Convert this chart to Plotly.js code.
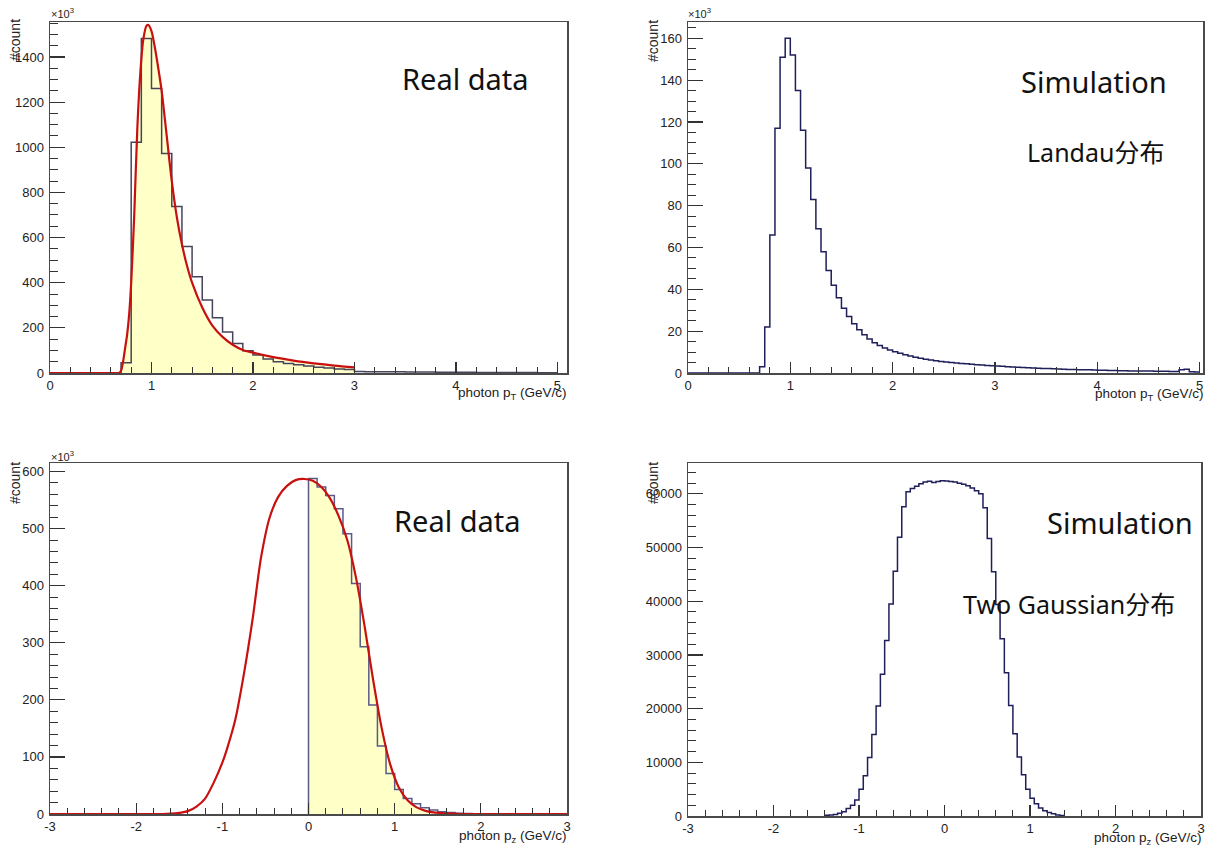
<!DOCTYPE html>
<html><head><meta charset="utf-8">
<script src="https://cdn.plot.ly/plotly-3.0.1.min.js"></script>
<style>html,body{margin:0;padding:0;background:#fff}#chart{width:1214px;height:850px}</style>
</head><body><div id="chart"></div>
<script>
// ---------- Panel 1: Real data, photon pT (counts in 10^3) ----------
const ptRealBinStart = 0, ptRealBinWidth = 0.1;
const ptRealCounts = [0,0,0,0,0,0,0,45,1022,1482,1260,972,738,560,426,323,245,182,131,99,80,62,50,42,36,31,26,22,18,15,7,6,6,5,5,4,4,4,3,3,3,3,2,2,2,2,2,2,1,1];
const ptRealFitX = [0,0.6,0.68,0.70,0.72,0.74,0.76,0.78,0.80,0.83,0.86,0.89,0.92,0.95,0.97,1.00,1.03,1.06,1.10,1.15,1.20,1.25,1.30,1.35,1.40,1.50,1.60,1.70,1.80,1.90,2.00,2.20,2.40,2.60,2.80,3.00];
const ptRealFitY = [0,0,0,10,50,110,170,260,400,700,1080,1330,1480,1538,1542,1515,1450,1370,1250,1050,850,690,570,475,400,290,210,160,125,102,90,70,55,43,33,25];

// ---------- Panel 2: Simulation, photon pT (counts in 10^3) ----------
const ptSimBinStart = 0, ptSimBinWidth = 0.05;
const ptSimCounts = [0,0,0,0,0,0,0,0,0,0,0,0,0,0,
 3,22,66,117,151,160,152,135,116,98,83,69,58,49,42,36,31,27,23.5,20.7,18.3,16.2,14.5,13.2,12,11,
 10.2,9.4,8.7,8.1,7.5,7,6.6,6.2,5.8,5.5,5.2,5.0,4.8,4.6,4.4,4.2,4.0,3.8,3.6,3.5,
 3.3,3.2,3.0,2.9,2.8,2.6,2.5,2.4,2.3,2.2,2.1,2.0,1.9,1.8,1.7,1.7,1.6,1.5,1.5,1.4,
 1.3,1.3,1.2,1.2,1.1,1.1,1.0,1.0,0.95,0.9,0.9,0.85,0.8,0.8,0.75,0.7,1.5,1.8,0.6,0.5];

// ---------- Panel 3: Real data, photon pz (counts in 10^3) ----------
const pzRealBinStart = 0, pzRealBinWidth = 0.1;
const pzRealCounts = [588,573,558,535,491,404,293,191,119,71,43,27,18,11,7,4,2.5,1.5,1,0.5,0.3,0.2,0.1,0,0,0,0,0,0,0];
const pzRealFitX = [-3,-2,-1.7,-1.6,-1.5,-1.4,-1.3,-1.2,-1.1,-1.0,-0.95,-0.85,-0.75,-0.65,-0.55,-0.45,-0.35,-0.25,-0.15,-0.05,0.05,0.15,0.25,0.35,0.45,0.55,0.65,0.75,0.85,0.95,1.05,1.15,1.25,1.35,1.45,1.6,1.7,1.8,2.0,3.0];
const pzRealFitY = [0,0,0,0.5,2,5,13,27,55,90,112,165,245,340,450,520,556,575,585,587,584,573,553,522,480,415,330,235,150,86,46,24,12,6,3,1,0.5,0,0,0];

// ---------- Panel 4: Simulation, photon pz (counts) ----------
const pzSimBinStart = -1.4, pzSimBinWidth = 0.05;
const pzSimCounts = [150,200,300,500,800,1400,2000,3000,5000,7500,10900,15200,20500,26400,32700,39500,45600,51900,57600,60400,
 61000,61400,61900,62200,62350,62100,62300,62450,62400,62300,62200,62000,61800,61500,61100,60600,60000,57400,51700,45500,
 39400,33000,26700,20600,15300,11000,7700,5000,3300,2300,1500,1000,650,400,200,100];

// ---------- Labels ----------
const pzTickVals = [-3,-2,-1,0,1,2,3];
const pzTickText = ['-3','-2','-1','0','1','2','3'];
const yTitle = '#count';
const expLabel = '×10<sup>3</sup>';
const ptTitle = 'photon p<sub>T</sub> (GeV/c)';
const pzTitle = 'photon p<sub>z</sub> (GeV/c)';

// ---------- helpers ----------
const W = 1214, H = 850;
const px = x => x / W, py = y => 1 - y / H;
function stepXY(start, width, counts, leadZero) {
  const x = [], y = [];
  if (leadZero) { x.push(start); y.push(0); }
  counts.forEach((c, i) => { x.push(start + i * width); y.push(c); });
  x.push(start + counts.length * width); y.push(counts[counts.length - 1]);
  return {x, y};
}
const tickFont = {family: 'Liberation Sans, Arial, sans-serif', size: 13, color: '#222'};
function xAxis(l, r, range, dtick, tick0, minor, anchor, extra) {
  return Object.assign({
    domain: [px(l), px(r)], range, dtick, tick0, anchor,
    ticks: 'inside', ticklen: 11, tickwidth: 1.2, tickcolor: '#333',
    showline: true, linecolor: '#4a4a4a', linewidth: 1.5, mirror: true,
    showgrid: false, zeroline: false, tickfont: tickFont, fixedrange: true,
    minor: {tickmode: 'linear', tick0, dtick: minor, ticks: 'inside', ticklen: 6, tickwidth: 1, tickcolor: '#333', showgrid: false}
  }, extra || {});
}
function yAxis(top, bottom, range, dtick, minor, anchor, extra) {
  return Object.assign({
    domain: [py(bottom), py(top)], range, dtick, tick0: 0, anchor,
    ticks: 'inside', ticklen: 15, tickwidth: 1.2, tickcolor: '#333',
    showline: true, linecolor: '#4a4a4a', linewidth: 1.5, mirror: true,
    showgrid: false, zeroline: false, tickfont: tickFont, fixedrange: true, ticklabelstandoff: 2,
    minor: {tickmode: 'linear', tick0: 0, dtick: minor, ticks: 'inside', ticklen: 8, tickwidth: 1, tickcolor: '#333', showgrid: false}
  }, extra || {});
}

const realHistColor = '#45455a', simHistColor = '#1f1f5a', fitColor = '#c81010', fillColor = '#ffffc8';

const h1 = stepXY(ptRealBinStart, ptRealBinWidth, ptRealCounts, false);
const h2 = stepXY(ptSimBinStart, ptSimBinWidth, ptSimCounts, false);
const h3 = stepXY(pzRealBinStart, pzRealBinWidth, pzRealCounts, true);
const h4 = stepXY(pzSimBinStart, pzSimBinWidth, pzSimCounts, true);
const pzFillIdx = pzRealFitX.map((v, i) => i).filter(i => pzRealFitX[i] >= -0.05);
const pzFillX = pzFillIdx.map(i => Math.max(0, pzRealFitX[i]));

const traces = [
  // panel 1
  {x: ptRealFitX, y: ptRealFitY, xaxis: 'x', yaxis: 'y', mode: 'lines', line: {width: 0, shape: 'spline', smoothing: 0.8}, fill: 'tozeroy', fillcolor: fillColor, hoverinfo: 'skip'},
  {x: h1.x, y: h1.y, xaxis: 'x', yaxis: 'y', mode: 'lines', line: {color: realHistColor, width: 1.5, shape: 'hv'}},
  {x: ptRealFitX, y: ptRealFitY, xaxis: 'x', yaxis: 'y', mode: 'lines', line: {color: fitColor, width: 2.2, shape: 'spline', smoothing: 0.8}},
  // panel 2
  {x: h2.x, y: h2.y, xaxis: 'x2', yaxis: 'y2', mode: 'lines', line: {color: simHistColor, width: 1.5, shape: 'hv'}},
  // panel 3
  {x: pzFillX, y: pzFillIdx.map(i => pzRealFitY[i]), xaxis: 'x3', yaxis: 'y3', mode: 'lines', line: {width: 0, shape: 'spline', smoothing: 0.8}, fill: 'tozeroy', fillcolor: fillColor, hoverinfo: 'skip'},
  {x: h3.x, y: h3.y, xaxis: 'x3', yaxis: 'y3', mode: 'lines', line: {color: '#5a5a8a', width: 1.5, shape: 'hv'}},
  {x: pzRealFitX, y: pzRealFitY, xaxis: 'x3', yaxis: 'y3', mode: 'lines', line: {color: fitColor, width: 2.2, shape: 'spline', smoothing: 0.8}},
  // panel 4
  {x: h4.x, y: h4.y, xaxis: 'x4', yaxis: 'y4', mode: 'lines', line: {color: simHistColor, width: 1.5, shape: 'hv'}}
];

const bigFont = {family: 'Noto Sans, Noto Sans CJK SC, sans-serif', size: 29, color: '#111'};
const midFont = {family: 'Noto Sans, Noto Sans CJK SC, sans-serif', size: 25, color: '#111'};
const smallFont = {family: 'Liberation Sans, Arial, sans-serif', size: 13.5, color: '#222'};
const yTitleFont = {family: 'Liberation Sans, Arial, sans-serif', size: 14, color: '#222'};
const expFont = {family: 'Liberation Sans, Arial, sans-serif', size: 11, color: '#222'};
function ann(text, x, y, font, xanchor, extra) {
  return Object.assign({text, x: px(x), y: py(y), xref: 'paper', yref: 'paper', showarrow: false, font, xanchor: xanchor || 'center', yanchor: 'middle'}, extra || {});
}
const annotations = [
  ann('Real data', 465, 78, bigFont),
  ann('Simulation', 1094, 81, bigFont),
  ann('Landau分布', 1095, 152, midFont),
  ann('Real data', 457, 520, bigFont),
  ann('Simulation', 1120, 522, bigFont),
  ann('Two Gaussian分布', 1069, 604, midFont),
  ann(yTitle, 15, 40, yTitleFont, 'center', {textangle: -90}),
  ann(yTitle, 653, 41, yTitleFont, 'center', {textangle: -90}),
  ann(yTitle, 15, 483, yTitleFont, 'center', {textangle: -90}),
  ann(yTitle, 653, 483, yTitleFont, 'center', {textangle: -90}),
  ann(expLabel, 49, 13, expFont, 'left'),
  ann(expLabel, 686, 13, expFont, 'left'),
  ann(expLabel, 49, 456, expFont, 'left'),
  ann(ptTitle, 569, 393, smallFont, 'right'),
  ann(ptTitle, 1206, 394, smallFont, 'right'),
  ann(pzTitle, 569, 836, smallFont, 'right'),
  ann(pzTitle, 1204, 838, smallFont, 'right')
];

const layout = {
  width: W, height: H, margin: {l: 0, r: 0, t: 0, b: 0},
  paper_bgcolor: '#fff', plot_bgcolor: '#fff', showlegend: false,
  xaxis: xAxis(50, 567, [0, 5.094], 1, 0, 0.2, 'y'),
  yaxis: yAxis(22, 373, [0, 1555], 200, 50, 'x'),
  xaxis2: xAxis(688, 1203, [0, 5.034], 1, 0, 0.2, 'y2'),
  yaxis2: yAxis(22, 373, [0, 167.8], 20, 5, 'x2'),
  xaxis3: xAxis(50, 567, [-3, 3], 1, -3, 0.2, 'y3', {tickmode: 'array', tickvals: pzTickVals, ticktext: pzTickText}),
  yaxis3: yAxis(463, 814, [0, 615], 100, 20, 'x3'),
  xaxis4: xAxis(688, 1201, [-3, 3], 1, -3, 0.2, 'y4', {tickmode: 'array', tickvals: pzTickVals, ticktext: pzTickText}),
  yaxis4: yAxis(463, 816, [0, 65750], 10000, 2000, 'x4', {tickformat: 'd'}),
  annotations
};
Plotly.newPlot('chart', traces, layout, {staticPlot: true, displayModeBar: false});
</script>
</body></html>
